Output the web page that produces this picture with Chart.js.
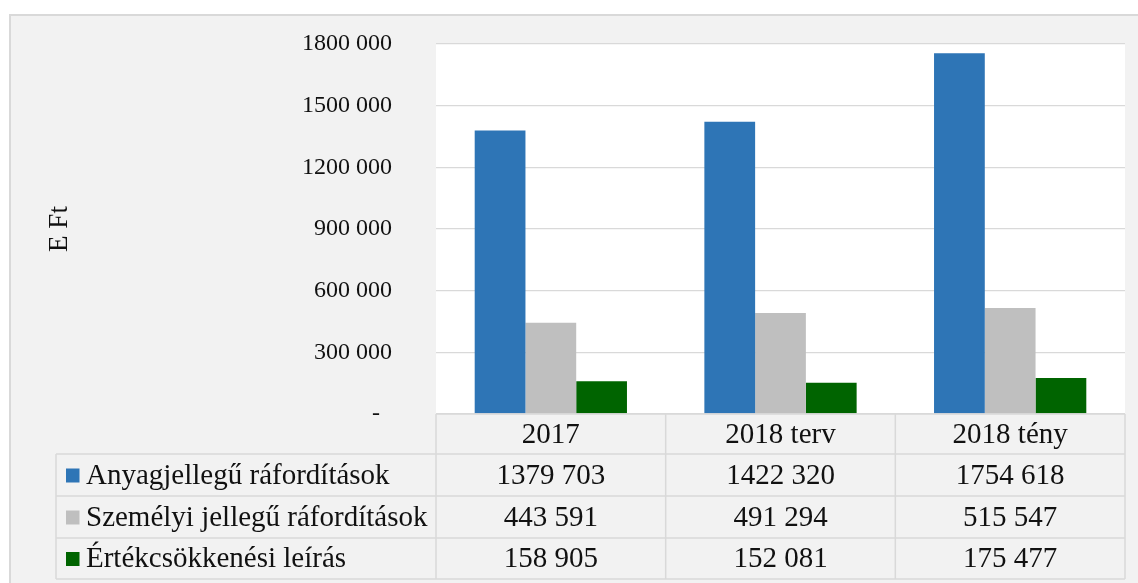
<!DOCTYPE html>
<html>
<head>
<meta charset="utf-8">
<script src="https://cdn.jsdelivr.net/npm/chart.js@4/dist/chart.umd.min.js"></script>
<style>
html,body{margin:0;padding:0;background:#fff;}
#wrap{position:relative;width:1138px;height:583px;}
</style>
</head>
<body>
<div id="wrap"><canvas id="c" width="1138" height="583"></canvas></div>
<script>
const categories = ['2017', '2018 terv', '2018 tény'];
const seriesNames = ['Anyagjellegű ráfordítások', 'Személyi jellegű ráfordítások', 'Értékcsökkenési leírás'];
const anyagjellegu = [1379703, 1422320, 1754618];
const szemelyi = [443591, 491294, 515547];
const ertekcsokkenes = [158905, 152081, 175477];
const yTickValues = [0, 300000, 600000, 900000, 1200000, 1500000, 1800000];
const yTickLabels = ['-  ', '300 000', '600 000', '900 000', '1200 000', '1500 000', '1800 000'];
const seriesColors = ['#2E75B6', '#BFBFBF', '#006400'];
const yTitle = 'E Ft';

function fmt(n) {
  if (n < 1000) return String(n);
  const hi = Math.floor(n / 1000);
  const lo = String(n % 1000).padStart(3, '0');
  return hi + ' ' + lo;
}

const FONT = '"Liberation Serif", "Times New Roman", serif';
const GRID = '#d9d9d9';

const frame = {
  id: 'frame',
  beforeDraw(chart) {
    const ctx = chart.ctx;
    const a = chart.chartArea;
    ctx.save();
    ctx.fillStyle = '#ffffff';
    ctx.fillRect(0, 0, chart.width, chart.height);
    ctx.fillStyle = '#f2f2f2';
    ctx.fillRect(10, 15, chart.width, chart.height);
    ctx.strokeStyle = GRID;
    ctx.lineWidth = 2;
    ctx.strokeRect(10, 15, chart.width + 10, chart.height + 10);
    ctx.fillStyle = '#ffffff';
    ctx.fillRect(a.left, a.top, a.right - a.left, a.bottom - a.top);
    ctx.restore();
  },
  afterDraw(chart) {
    const ctx = chart.ctx;
    const a = chart.chartArea;
    const n = categories.length;
    const cw = (a.right - a.left) / n;
    const rowH = [40, 42, 42, 41];
    const labelLeft = 56;
    const ys = [a.bottom];
    rowH.forEach(h => ys.push(ys[ys.length - 1] + h));
    ctx.save();
    ctx.strokeStyle = GRID;
    ctx.lineWidth = 1.5;
    ctx.beginPath();
    ctx.moveTo(a.left, ys[0]); ctx.lineTo(a.right, ys[0]);
    for (let i = 1; i < ys.length; i++) {
      ctx.moveTo(labelLeft, ys[i]); ctx.lineTo(a.right, ys[i]);
    }
    for (let i = 0; i <= n; i++) {
      const x = a.left + i * cw;
      ctx.moveTo(x, ys[0]); ctx.lineTo(x, ys[ys.length - 1]);
    }
    ctx.moveTo(labelLeft, ys[1]); ctx.lineTo(labelLeft, ys[ys.length - 1]);
    ctx.stroke();

    ctx.fillStyle = '#111111';
    ctx.font = '29px ' + FONT;
    ctx.textBaseline = 'middle';
    ctx.textAlign = 'center';
    categories.forEach((c, i) => {
      ctx.fillText(c, a.left + (i + 0.5) * cw, (ys[0] + ys[1]) / 2 + 1);
    });
    chart.data.datasets.forEach((ds, r) => {
      const yc = (ys[r + 1] + ys[r + 2]) / 2 + 1;
      ctx.fillStyle = ds.backgroundColor;
      ctx.fillRect(66, yc - 7.5, 13.5, 14);
      ctx.fillStyle = '#111111';
      ctx.textAlign = 'left';
      ctx.fillText(ds.label, 86, yc);
      ctx.textAlign = 'center';
      ds.data.forEach((v, i) => {
        ctx.fillText(fmt(v), a.left + (i + 0.5) * cw, yc);
      });
    });
    ctx.restore();
  }
};

new Chart(document.getElementById('c'), {
  type: 'bar',
  data: {
    labels: categories,
    datasets: [
      { label: seriesNames[0], data: anyagjellegu, backgroundColor: seriesColors[0] },
      { label: seriesNames[1], data: szemelyi, backgroundColor: seriesColors[1] },
      { label: seriesNames[2], data: ertekcsokkenes, backgroundColor: seriesColors[2] }
    ]
  },
  options: {
    responsive: false,
    animation: false,
    events: [],
    layout: { padding: { left: 0, right: 13, top: 44, bottom: 169 } },
    datasets: { bar: { barPercentage: 1, categoryPercentage: 0.663 } },
    plugins: { legend: { display: false }, tooltip: { enabled: false }, title: { display: false } },
    scales: {
      x: { display: false },
      y: {
        min: 0, max: 1800000,
        afterBuildTicks(scale) { scale.ticks = yTickValues.map(v => ({ value: v })); },
        afterFit(scale) { scale.width = 436; },
        border: { display: false },
        grid: { color: GRID, lineWidth: 1.3, drawTicks: true, tickLength: 44, tickColor: 'rgba(0,0,0,0)' },
        ticks: {
          padding: 0,
          color: '#111111',
          font: { family: FONT, size: 24 },
          callback(value) { const i = yTickValues.indexOf(value); return i >= 0 ? yTickLabels[i] : ''; }
        },
        title: {
          display: true, text: yTitle, color: '#111111',
          font: { family: FONT, size: 27 },
          padding: { top: 44, bottom: 0 }
        }
      }
    }
  },
  plugins: [frame]
});
</script>
</body>
</html>
